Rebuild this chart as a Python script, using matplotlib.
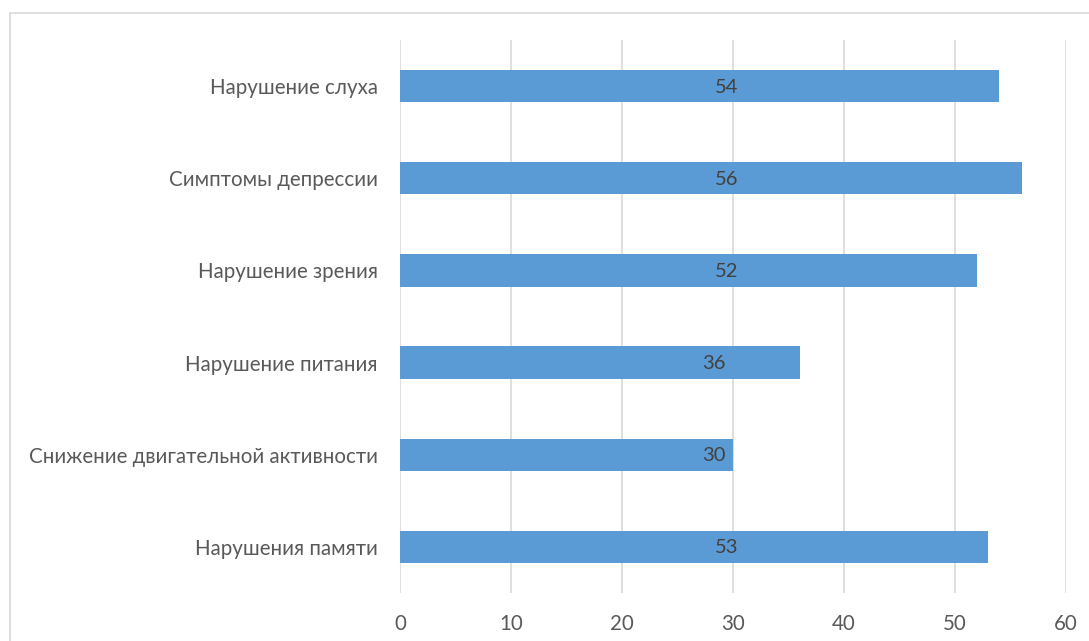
import matplotlib.pyplot as plt
from matplotlib.lines import Line2D

categories = [
    "Нарушения памяти",
    "Снижение двигательной активности",
    "Нарушение питания",
    "Нарушение зрения",
    "Симптомы депрессии",
    "Нарушение слуха",
]
values = [53, 30, 36, 52, 56, 54]
xticks = [0, 10, 20, 30, 40, 50, 60]

plt.rcParams['font.family'] = ['Lato', 'DejaVu Sans']

fig = plt.figure(figsize=(10.89, 6.41), dpi=100)
ax = fig.add_axes([400 / 1089, 1 - 593 / 641, 666 / 1089, 553 / 641])

# chart frame (top and left edges visible)
W, H = 1089, 641
fig.add_artist(Line2D([10 / W, 1], [1 - 13 / H, 1 - 13 / H], color='#d9d9d9', lw=1.2,
                      transform=fig.transFigure))
fig.add_artist(Line2D([10 / W, 10 / W], [1 - 13 / H, 0], color='#d9d9d9', lw=1.2,
                      transform=fig.transFigure))

y = range(len(categories))
ax.barh(y, values, height=0.35, color='#5b9bd5', zorder=3)
for yi, v in zip(y, values):
    # labels sit near the middle of the plot area, shifted left on short bars
    lx = 29.4 if v > 40 else 28.3
    ax.text(lx, yi - 0.01, str(v), ha='center', va='center', fontsize=14.5,
            color='#404040', zorder=4)

ax.set_xlim(0, 60)
ax.set_ylim(-0.5, len(categories) - 0.5)
ax.set_xticks(xticks)
ax.set_yticks(list(y))
ax.set_yticklabels(categories)
ax.tick_params(axis='both', length=0, labelsize=14.8, labelcolor='#595959')
ax.tick_params(axis='x', pad=15)
ax.tick_params(axis='y', pad=16)
ax.grid(axis='x', color='#d9d9d9', lw=1.2, zorder=0)
for s in ax.spines.values():
    s.set_visible(False)

plt.savefig("out.png", dpi=100)
